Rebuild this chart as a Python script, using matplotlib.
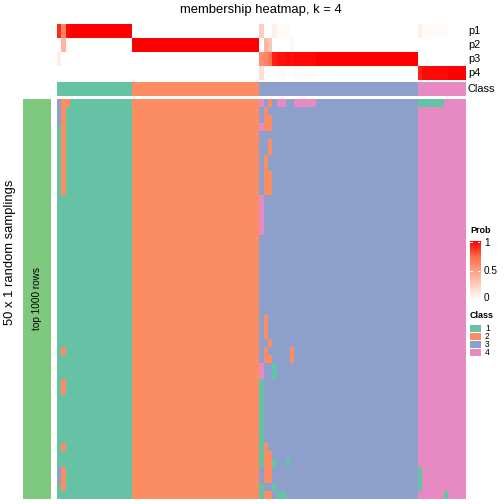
import numpy as np
import matplotlib
matplotlib.use("Agg")
import matplotlib.pyplot as plt
from matplotlib.colors import ListedColormap, LinearSegmentedColormap
from matplotlib.patches import Rectangle

plt.rcParams['font.family'] = ['Liberation Sans', 'DejaVu Sans']

# ---- data ----
class_names = ['1', '2', '3', '4']
class_colors = ['#66C2A5', '#FC8D62', '#8DA0CB', '#E78AC3']
class_sizes = [17, 29, 36, 11]          # columns per consensus class
n_samplings = 50

# membership probabilities per column (ordered as in the chart)
p1 = [0.9, 0.62, 0.98] + [1] * 14 + [0] * 29 + \
     [0.26, 0, 0, 0.08, 0.02, 0.02, 0.02] + [0] * 29 + \
     [0.08] + [0.02] * 6 + [0] * 4
p2 = [0, 0.38, 0.02] + [0] * 14 + [1] * 29 + \
     [0, 0.38, 0.3, 0, 0, 0, 0, 0.04] + [0] * 28 + [0] * 11
p3 = [0.1, 0, 0] + [0] * 14 + [0] * 29 + \
     [0.58, 0.62, 0.7, 0.92, 0.96, 0.96, 0.98, 0.96, 0.98, 0.98, 0.98, 0.98, 0.98] + \
     [1] * 23 + [0] * 11
p4 = [0] * 17 + [0] * 29 + \
     [0.16, 0, 0, 0, 0.02, 0.02, 0, 0, 0.02, 0.02, 0.02, 0.02, 0.02] + [0] * 23 + \
     [0.92] + [0.98] * 6 + [1] * 4
prob_labels = ['p1', 'p2', 'p3', 'p4']

# samplings that disagree with the consensus class: (column, rows, class)
deviations = [
    (0, [0, 1, 2, 46, 47], 3),
    (1, list(range(0, 12)) + [31, 35, 36, 43, 46, 47, 48], 2),
    (2, [0], 2),
    (46, [0, 3, 12, 13, 14, 15, 16, 33, 34], 4),
    (46, list(range(35, 46)) + [48, 49], 1),
    (47, [1, 2, 3, 7, 8, 9, 10, 11, 27, 28, 29, 31, 32, 43, 44, 45, 46, 47, 49], 2),
    (48, [0, 2, 3, 5, 6, 9, 10, 11, 30, 32, 44, 45, 46, 47, 49], 2),
    (49, [33, 34, 45, 48], 1),
    (50, [0], 4), (50, [49], 1),
    (51, [0], 4), (51, [49], 1),
    (52, [45], 1),
    (53, [31, 32], 2),
    (54, [0], 4), (55, [0], 4), (56, [0], 4), (57, [0], 4), (58, [0], 4),
    (82, [0, 46, 47, 48], 1),
    (83, [0], 1), (84, [0], 1), (85, [0], 1), (86, [0], 1), (87, [0], 1),
    (88, [49], 1),
]

# ---- build matrices ----
consensus = np.repeat([1, 2, 3, 4], class_sizes)
n_cols = len(consensus)
samp = np.tile(consensus, (n_samplings, 1))
for col, rows, cl in deviations:
    samp[rows, col] = cl
prob = np.array([p1, p2, p3, p4], dtype=float)

class_cmap = ListedColormap(class_colors)
red_cmap = LinearSegmentedColormap.from_list(
    'wr', [(0, '#FFFFFF'), (0.25, '#FFCFBF'), (0.5, '#FF9E81'), (0.75, '#FF6846'), (1, '#FF0000')])

W = H = 504
fig = plt.figure(figsize=(7, 7), dpi=72)


def px_axes(x0, y0, x1, y1):
    ax = fig.add_axes([x0 / W, 1 - y1 / H, (x1 - x0) / W, (y1 - y0) / H])
    ax.set_axis_off()
    return ax


def ftext(x, y, s, **kw):
    fig.text(x / W, 1 - y / H, s, **kw)


hx0, hx1 = 56.7, 465

# membership rows
ax = px_axes(hx0, 24, hx1, 80)
ax.imshow(prob, cmap=red_cmap, vmin=0, vmax=1, aspect='auto', interpolation='nearest')
for i, lab in enumerate(prob_labels):
    ftext(468, 31 + 14 * i, lab, fontsize=11, va='center', ha='left')

# class row
ax = px_axes(hx0, 82, hx1, 96)
ax.imshow(consensus[None, :], cmap=class_cmap, vmin=0.5, vmax=4.5, aspect='auto', interpolation='nearest')
ftext(468, 89, 'Class', fontsize=11, va='center', ha='left')

# samplings
ax = px_axes(hx0, 99, hx1, 499)
ax.imshow(samp, cmap=class_cmap, vmin=0.5, vmax=4.5, aspect='auto', interpolation='nearest')

# left annotation bar
ax = px_axes(23, 99, 51, 499)
ax.add_patch(Rectangle((0, 0), 1, 1, color='#7FC97F'))
ax.set_xlim(0, 1)
ax.set_ylim(0, 1)
ax.text(0.5, 0.5, 'top 1000 rows', rotation=90, ha='center', va='center', fontsize=10)

ftext(10, 252, '50 x 1 random samplings', rotation=90, ha='center', va='center', fontsize=13)
ftext(261, 10, 'membership heatmap, k = 4', ha='center', va='center', fontsize=13)

# legend: Prob
ftext(470, 231, 'Prob', fontsize=9, fontweight='bold', va='center', ha='left')
ax = px_axes(470, 241, 480, 300)
ax.imshow(np.linspace(1, 0, 200)[:, None], cmap=red_cmap, vmin=0, vmax=1,
          aspect='auto', extent=[0, 1, 0, 1])
for v in [0, 0.5, 1]:
    yv = min(max(v, 0.01), 0.99)
    ax.plot([0, 0.2], [yv, yv], color='white', lw=1)
    ax.plot([0.8, 1], [yv, yv], color='white', lw=1)
ax.set_xlim(0, 1)
ax.set_ylim(0, 1)
for v, lab in zip([243, 271, 298], ['1', '0.5', '0']):
    ftext(484, v, lab, fontsize=10, va='center', ha='left')

# legend: Class
ftext(470, 315, 'Class', fontsize=9, fontweight='bold', va='center', ha='left')
for i, (name, col) in enumerate(zip(class_names, class_colors)):
    ax = px_axes(470, 325 + 8 * i, 481, 332 + 8 * i)
    ax.add_patch(Rectangle((0, 0), 1, 1, color=col))
    ax.set_xlim(0, 1)
    ax.set_ylim(0, 1)
    ftext(485, 328.5 + 8 * i, name, fontsize=8.5, va='center', ha='left')

fig.savefig('out.png', dpi=72)
